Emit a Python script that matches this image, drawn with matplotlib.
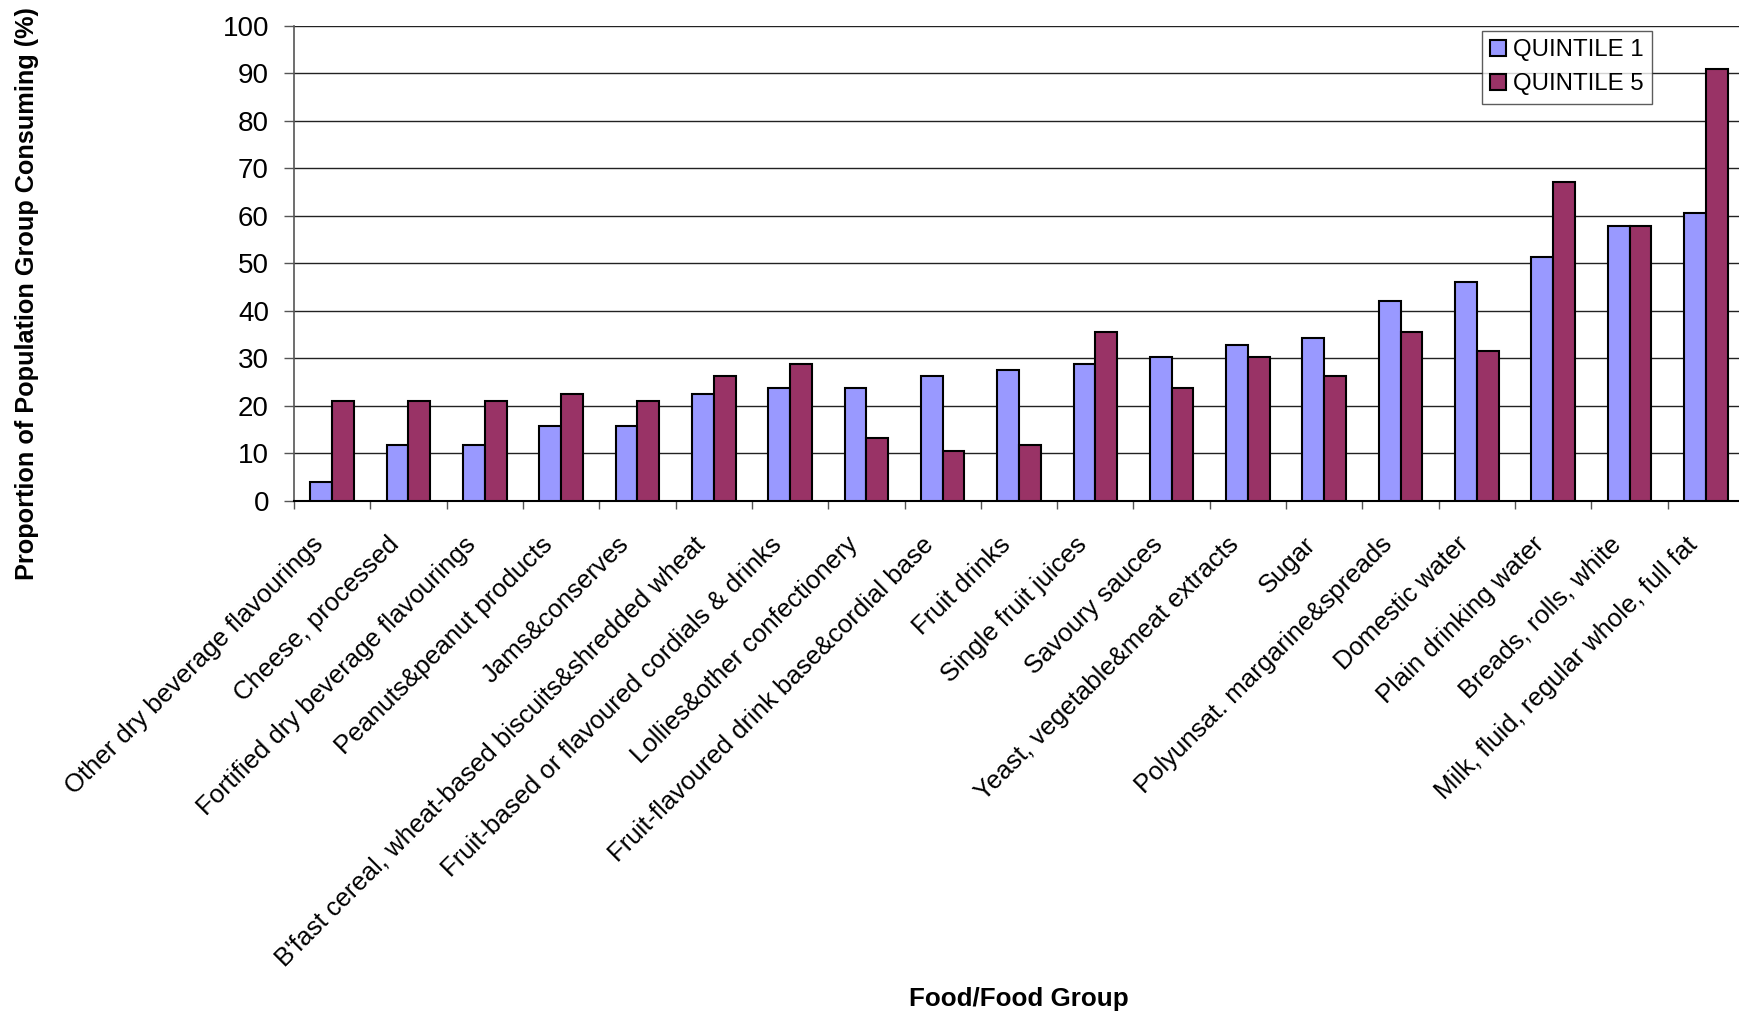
import matplotlib
matplotlib.use("Agg")
import matplotlib.pyplot as plt
import matplotlib.transforms as mtransforms
import numpy as np

plt.rcParams['font.family'] = ['Liberation Sans', 'DejaVu Sans']

categories = [
    "Other dry beverage flavourings",
    "Cheese, processed",
    "Fortified dry beverage flavourings",
    "Peanuts&peanut products",
    "Jams&conserves",
    "B'fast cereal, wheat-based biscuits&shredded wheat",
    "Fruit-based or flavoured cordials & drinks",
    "Lollies&other confectionery",
    "Fruit-flavoured drink base&cordial base",
    "Fruit drinks",
    "Single fruit juices",
    "Savoury sauces",
    "Yeast, vegetable&meat extracts",
    "Sugar",
    "Polyunsat. margarine&spreads",
    "Domestic water",
    "Plain drinking water",
    "Breads, rolls, white",
    "Milk, fluid, regular whole, full fat",
]
quintile1 = [3.9, 11.8, 11.8, 15.8, 15.8, 22.4, 23.7, 23.7, 26.3, 27.6, 28.9,
             30.3, 32.9, 34.2, 42.1, 46.1, 51.3, 57.9, 60.5]
quintile5 = [21.1, 21.1, 21.1, 22.4, 21.1, 26.3, 28.9, 13.2, 10.5, 11.8, 35.5,
             23.7, 30.3, 26.3, 35.5, 31.6, 67.1, 57.9, 90.8]
yticks = list(range(0, 101, 10))

W, H = 1740, 1014
fig = plt.figure(figsize=(W / 100, H / 100), dpi=100)
ax = fig.add_axes([294 / W, 1 - 501 / H, (1744 - 294) / W, (501 - 25.5) / H])

x = np.arange(len(categories))
bw = 1 / 3.5
ax.bar(x - bw / 2, quintile1, bw, color='#9999FF', edgecolor='black',
       linewidth=1.5, label='QUINTILE 1', zorder=3)
ax.bar(x + bw / 2, quintile5, bw, color='#993366', edgecolor='black',
       linewidth=1.5, label='QUINTILE 5', zorder=3)

ax.set_xlim(-0.5, len(categories) - 0.5)
ax.set_ylim(0, 100)
ax.set_yticks(yticks)
ax.set_yticklabels([str(v) for v in yticks], fontsize=20)
ax.yaxis.grid(True, color='#222222', linewidth=1.0, zorder=0)
ax.tick_params(axis='y', direction='out', length=7, width=1, color='#555555', pad=11)

ax.set_xticks(x)
ax.set_xticklabels(categories, rotation=45, ha='right', rotation_mode='anchor',
                   fontsize=18.5)
ax.tick_params(axis='x', which='major', length=0, pad=14)
ax.set_xticks(np.arange(-0.5, len(categories) + 0.5, 1), minor=True)
ax.tick_params(axis='x', which='minor', direction='out', length=6, width=1,
               color='#555555')
shift = mtransforms.ScaledTranslation(-21 / 100, -12 / 100, fig.dpi_scale_trans)
for lab in ax.get_xticklabels():
    lab.set_transform(lab.get_transform() + shift)

for side in ('top', 'right'):
    ax.spines[side].set_visible(False)
ax.spines['left'].set_color('#555555')
ax.spines['left'].set_linewidth(1.2)
ax.spines['bottom'].set_color('black')
ax.spines['bottom'].set_linewidth(1.5)

fig.text(27 / W, 1 - 294 / H, 'Proportion of Population Group Consuming (%)',
         rotation=90, ha='center', va='center', fontsize=18.2, fontweight='bold')
fig.text(1019 / W, 1 - 999 / H, 'Food/Food Group', ha='center', va='center',
         fontsize=18.7, fontweight='bold')

leg = fig.legend(loc='upper left', bbox_to_anchor=(1482 / W, 1 - 31 / H),
                 fontsize=17.3, frameon=True, fancybox=False, borderpad=0.35,
                 handlelength=0.65, handleheight=0.65, handletextpad=0.3,
                 labelspacing=0.5, borderaxespad=0)
leg.get_frame().set_edgecolor('#333333')
leg.get_frame().set_linewidth(1.0)

fig.savefig('out.png', dpi=100)
